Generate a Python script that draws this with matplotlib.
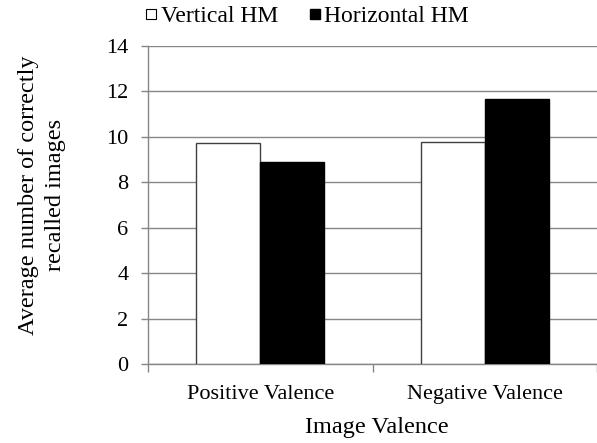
import matplotlib
matplotlib.use("Agg")
import matplotlib.pyplot as plt
from matplotlib.lines import Line2D
import numpy as np

categories = ["Positive Valence", "Negative Valence"]
series_names = ["Vertical HM", "Horizontal HM"]
vertical_hm = [9.72, 9.76]
horizontal_hm = [8.90, 11.65]
y_ticks = [0, 2, 4, 6, 8, 10, 12, 14]

plt.rcParams['font.family'] = ['Liberation Serif', 'DejaVu Serif']

fig = plt.figure(figsize=(5.97, 4.43), dpi=100)
ax = fig.add_axes([148/597, 1-364.3/443, 449/597, (364.3-46)/443])

x = np.arange(len(categories))
w = 0.286
gray = "#868686"
ax.bar(x - w/2, vertical_hm, width=w, color="white", edgecolor="#404040", linewidth=1.0, zorder=3)
ax.bar(x + w/2, horizontal_hm, width=w, color="black", edgecolor="black", linewidth=1.0, zorder=3)

ax.set_xlim(-0.5, 1.5)
ax.set_ylim(0, 14)
ax.set_yticks(y_ticks)
ax.set_yticklabels([str(t) for t in y_ticks], fontsize=16)
ax.yaxis.grid(True, color=gray, linewidth=1.0, zorder=0)
ax.set_axisbelow(True)

ax.set_xticks(x)
ax.set_xticklabels(categories, fontsize=16)
ax.tick_params(axis='x', length=0, pad=15)
ax.set_xticks([-0.5, 0.5, 1.5], minor=True)
ax.tick_params(axis='x', which='minor', length=6, color=gray, width=1)
ax.tick_params(axis='y', length=5, color=gray, width=1, pad=9)

for s in ['top', 'right']:
    ax.spines[s].set_visible(False)
for s in ['left', 'bottom']:
    ax.spines[s].set_color(gray)
    ax.spines[s].set_linewidth(1.0)

ax.set_xlabel("Image Valence", fontsize=17.5)
ax.xaxis.set_label_coords((377-148)/449, -(428-364.3)/318.3)
ax.xaxis.label.set_va('center')
ax.set_ylabel("Average number of correctly\nrecalled images", fontsize=17.5, linespacing=1.4)
ax.yaxis.set_label_coords((66-148)/449, (364.3-195)/318.3)

handles = [
    Line2D([], [], marker='s', linestyle='none', markersize=7, markerfacecolor='white', markeredgecolor='black', markeredgewidth=0.8),
    Line2D([], [], marker='s', linestyle='none', markersize=7.5, markerfacecolor='black', markeredgecolor='black'),
]
fig.legend(handles, series_names, loc='center', bbox_to_anchor=(307/597, 1-16/443), ncol=2,
           frameon=False, fontsize=17, handlelength=0.5, handletextpad=0.15, columnspacing=1.3,
           borderpad=0)

fig.savefig("out.png", dpi=100)
